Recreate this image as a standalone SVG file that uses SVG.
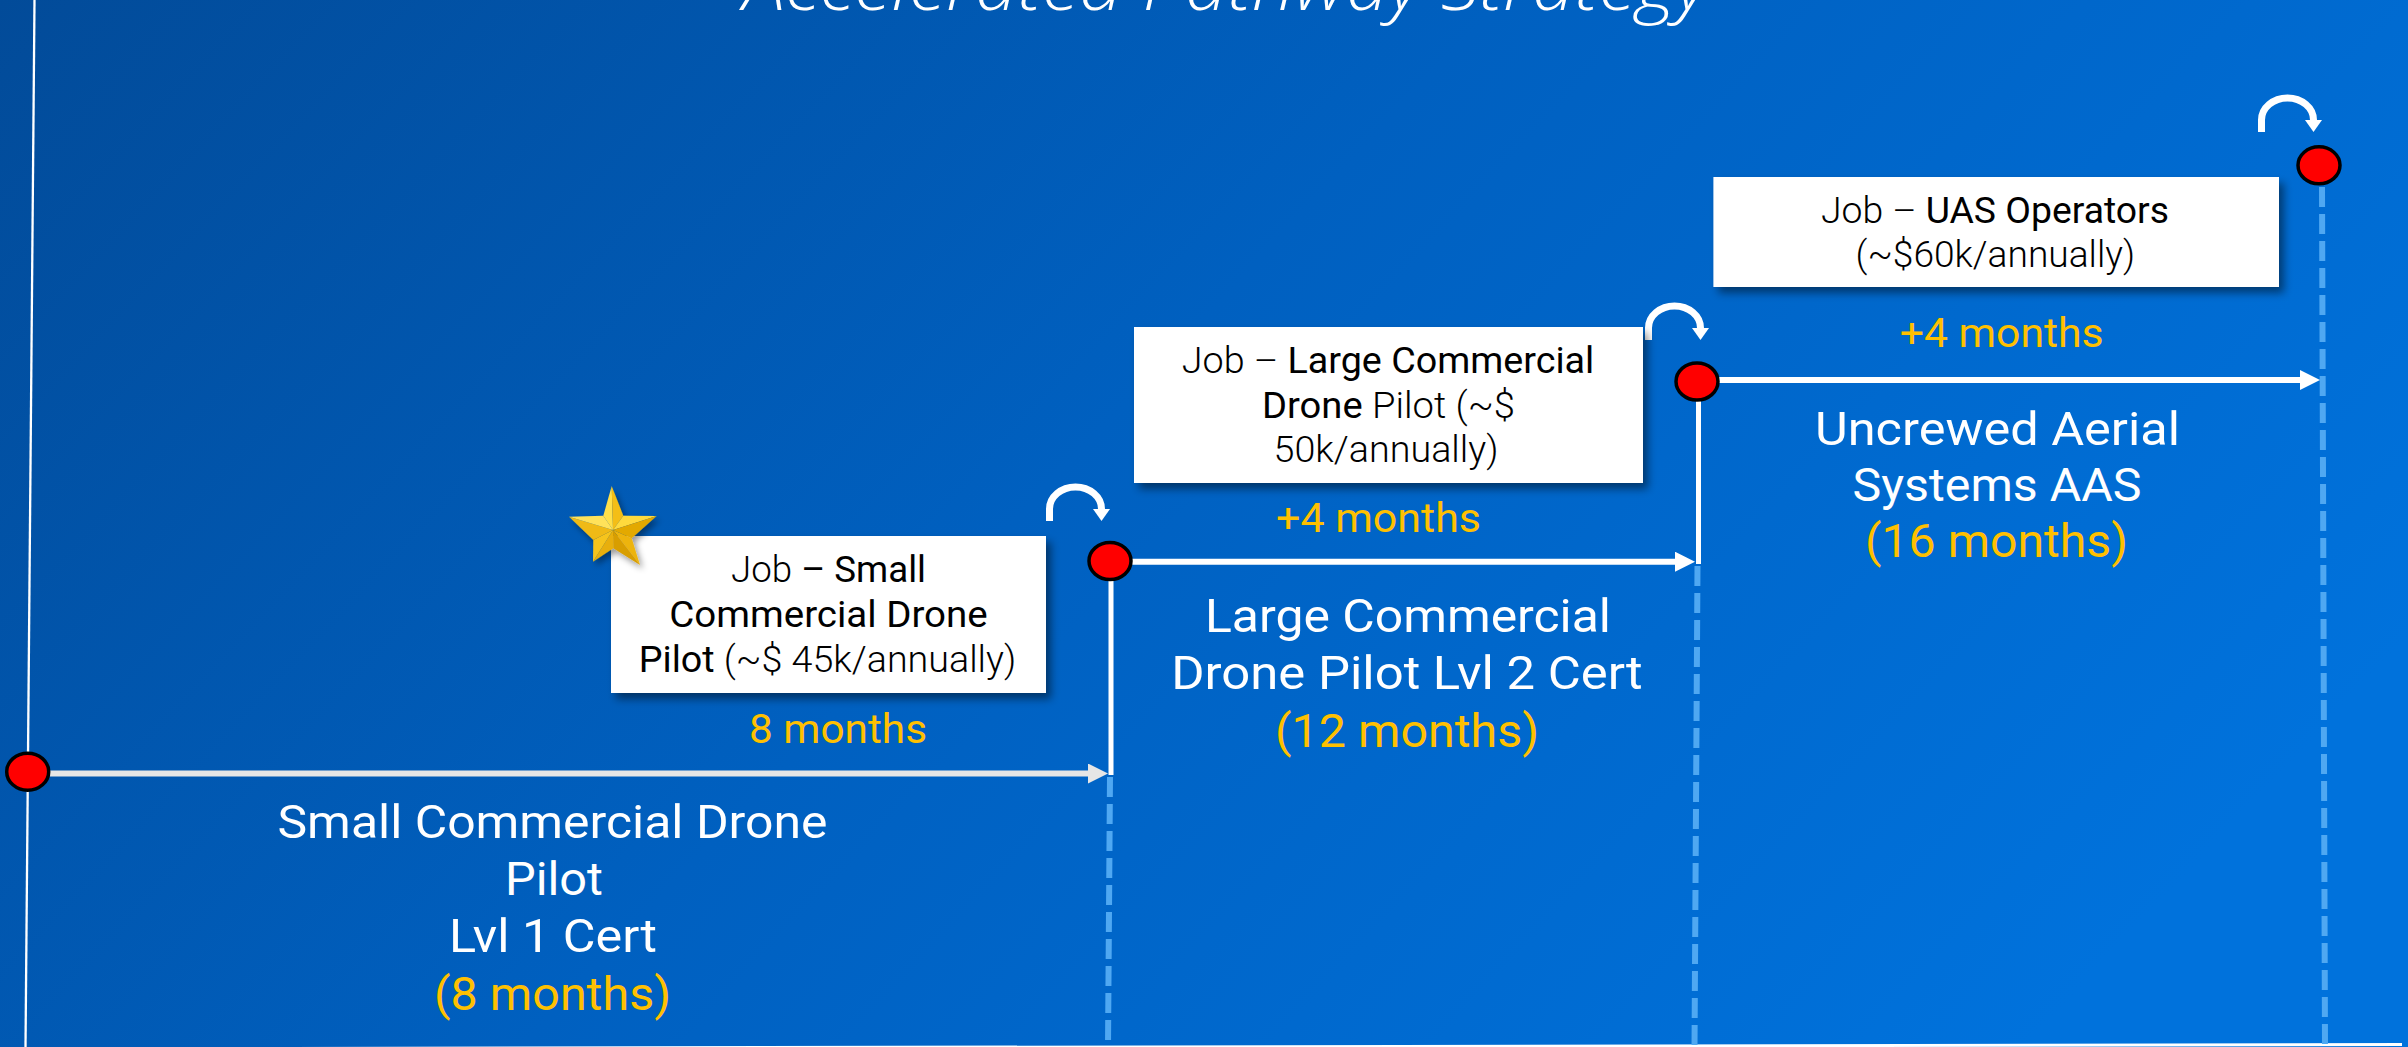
<svg xmlns="http://www.w3.org/2000/svg" width="2408" height="1047" viewBox="0 0 2408 1047">
<style>
.lbl{font-family:Roboto,"Liberation Sans",sans-serif;font-size:47px;fill:#FFFFFF;text-anchor:middle}
.org{fill:#FFC000}
.mon{font-family:Roboto,"Liberation Sans",sans-serif;font-size:40px;fill:#FFC000;text-anchor:middle}
.box{fill:#FFFFFF;filter:url(#shadow)}
.bt{font-family:Roboto,"Liberation Sans",sans-serif;font-size:36px;fill:#000000;text-anchor:middle}
.lt{font-weight:300}
.md{font-weight:400}
.dot{fill:#FF0000;stroke:#000000;stroke-width:3.5}
.dash{stroke:#4FA8F2;stroke-width:6;stroke-dasharray:20 7;fill:none}
.vline{stroke:#FFFFFF;stroke-width:5;fill:none}
.harrow{stroke:#FFFFFF;stroke-width:6;fill:none;marker-end:url(#ah)}
.curve{stroke:#FFFFFF;stroke-width:7;fill:none;marker-end:url(#ch)}
</style>
<defs>
<linearGradient id="bg" gradientUnits="userSpaceOnUse" x1="0" y1="0" x2="1600" y2="1500">
<stop offset="0" stop-color="#024B99"/>
<stop offset="0.5" stop-color="#0060C0"/>
<stop offset="1" stop-color="#0072DC"/>
</linearGradient>
<filter id="shadow" x="-10%" y="-10%" width="125%" height="130%">
<feDropShadow dx="5" dy="6" stdDeviation="4" flood-color="#000000" flood-opacity="0.45"/>
</filter>
<filter id="sshadow" x="-20%" y="-20%" width="150%" height="150%">
<feDropShadow dx="3" dy="4" stdDeviation="3" flood-color="#000000" flood-opacity="0.4"/>
</filter>
<marker id="ah" viewBox="0 -10 20 20" markerUnits="userSpaceOnUse" markerWidth="20" markerHeight="20" refX="0" refY="0" orient="auto">
<path d="M0,-10 L20,0 L0,10 Z" fill="#FFFFFF"/>
</marker>
<marker id="ahg" viewBox="0 -10 20 20" markerUnits="userSpaceOnUse" markerWidth="20" markerHeight="20" refX="0" refY="0" orient="auto">
<path d="M0,-10 L20,0 L0,10 Z" fill="#E6E6E6"/>
</marker>
<marker id="ch" viewBox="0 -9 13 18" markerUnits="userSpaceOnUse" markerWidth="13" markerHeight="18" refX="0" refY="0" orient="auto">
<path d="M0,-8.5 L12,0 L0,8.5 Z" fill="#FFFFFF"/>
</marker>
</defs>

<rect x="0" y="0" width="2408" height="1047" fill="url(#bg)"/>

<text id="title" x="1225.5" y="10" font-family="'Open Sans','Liberation Sans',sans-serif" font-style="italic" font-weight="300" font-size="70" fill="#FFFFFF" text-anchor="middle" textLength="965" lengthAdjust="spacingAndGlyphs">Accelerated Pathway Strategy</text>

<g id="connectors">
<line id="axis-y" x1="34.5" y1="0" x2="25.5" y2="1047" stroke="#FFFFFF" stroke-width="2.3"/>
<line id="axis-x" x1="27" y1="1049" x2="2402" y2="1044.5" stroke="#FFFFFF" stroke-width="3"/>
<line class="dash" x1="1110" y1="777" x2="1108" y2="1047"/>
<line class="dash" x1="1697.5" y1="566" x2="1694.5" y2="1047"/>
<line class="dash" x1="2322" y1="187" x2="2325" y2="1047"/>
<line class="vline" x1="1111" y1="561" x2="1111" y2="775"/>
<line class="vline" x1="1698.5" y1="381" x2="1698.5" y2="564"/>
<line x1="49" y1="773.5" x2="1088" y2="773.5" stroke="#E6E6E6" stroke-width="6" marker-end="url(#ahg)"/>
<line class="harrow" x1="1131" y1="561.7" x2="1675" y2="561.7"/>
<line class="harrow" x1="1718" y1="380" x2="2300" y2="380"/>
<path class="curve" d="M1049.5 521 L1049.5 509 A26 22 0 0 1 1101.5 509"/>
<path class="curve" d="M1648.5 340 L1648.5 328 A26 22 0 0 1 1700.5 328"/>
<path class="curve" d="M2261.5 132 L2261.5 120 A26 22 0 0 1 2313.5 120"/>
</g>

<g id="dot-1"><ellipse class="dot" cx="27.7" cy="771.7" rx="21" ry="18.5"/></g>
<g id="dot-2"><ellipse class="dot" cx="1110" cy="561" rx="21" ry="18.5"/></g>
<g id="dot-3"><ellipse class="dot" cx="1697" cy="381.5" rx="21" ry="18.5"/></g>
<g id="dot-4"><ellipse class="dot" cx="2319" cy="165.3" rx="21" ry="18.5"/></g>

<g id="job-1">
<rect class="box" x="611" y="536" width="435" height="157"/>
<text class="bt" x="828.5" y="582" textLength="195" lengthAdjust="spacingAndGlyphs"><tspan class="lt">Job</tspan><tspan class="md"> – Small</tspan></text>
<text class="bt md" x="828.5" y="627" textLength="318.5" lengthAdjust="spacingAndGlyphs">Commercial Drone</text>
<text class="bt" x="827.5" y="672" textLength="377.5" lengthAdjust="spacingAndGlyphs"><tspan class="md">Pilot</tspan><tspan class="lt"> (~$ 45k/annually)</tspan></text>
</g>

<g id="star" filter="url(#sshadow)">
<polygon points="613,530 603.3,515.7 611.7,486" fill="#FFE04A"/>
<polygon points="613,530 611.7,486 623.3,515.7" fill="#F4BE14"/>
<polygon points="613,530 623.3,515.7 656.7,516" fill="#FFDA3C"/>
<polygon points="613,530 656.7,516 631.7,538.3" fill="#E3A906"/>
<polygon points="613,530 631.7,538.3 640,565" fill="#EDB40C"/>
<polygon points="613,530 640,565 613.3,548.3" fill="#D89E00"/>
<polygon points="613,530 613.3,548.3 593,561.7" fill="#E8AF08"/>
<polygon points="613,530 593,561.7 593.3,540" fill="#F6C41C"/>
<polygon points="613,530 593.3,540 569,516.7" fill="#F0BA12"/>
<polygon points="613,530 569,516.7 603.3,515.7" fill="#FFE25A"/>
</g>

<g id="job-2">
<rect class="box" x="1134" y="327" width="509" height="156"/>
<text class="bt" x="1388" y="373" textLength="412.5" lengthAdjust="spacingAndGlyphs"><tspan class="lt">Job – </tspan><tspan class="md">Large Commercial</tspan></text>
<text class="bt" x="1388.5" y="418" textLength="253" lengthAdjust="spacingAndGlyphs"><tspan class="md">Drone</tspan><tspan class="lt"> Pilot (~$</tspan></text>
<text class="bt lt" x="1386" y="462" textLength="225" lengthAdjust="spacingAndGlyphs">50k/annually)</text>
</g>

<g id="job-3">
<rect class="box" x="1713.4" y="177" width="565.6" height="110"/>
<text class="bt" x="1995" y="222.7" textLength="348" lengthAdjust="spacingAndGlyphs"><tspan class="lt">Job – </tspan><tspan class="md">UAS Operators</tspan></text>
<text class="bt lt" x="1995.3" y="266.7" textLength="279.5" lengthAdjust="spacingAndGlyphs">(~$60k/annually)</text>
</g>

<g id="dur-1"><text class="mon" x="838" y="743" textLength="178" lengthAdjust="spacingAndGlyphs">8 months</text></g>
<g id="dur-2"><text class="mon" x="1378.5" y="531.7" textLength="205" lengthAdjust="spacingAndGlyphs">+4 months</text></g>
<g id="dur-3"><text class="mon" x="2001.7" y="346.7" textLength="204" lengthAdjust="spacingAndGlyphs">+4 months</text></g>

<g id="cert-1">
<text class="lbl" x="552.5" y="838" textLength="550" lengthAdjust="spacingAndGlyphs">Small Commercial Drone</text>
<text class="lbl" x="554" y="895" textLength="98" lengthAdjust="spacingAndGlyphs">Pilot</text>
<text class="lbl" x="553" y="952" textLength="208" lengthAdjust="spacingAndGlyphs">Lvl 1 Cert</text>
<text class="lbl org" x="552.5" y="1010" textLength="237" lengthAdjust="spacingAndGlyphs">(8 months)</text>
</g>

<g id="cert-2">
<text class="lbl" x="1408" y="632" textLength="406" lengthAdjust="spacingAndGlyphs">Large Commercial</text>
<text class="lbl" x="1407" y="689" textLength="471.5" lengthAdjust="spacingAndGlyphs">Drone Pilot Lvl 2 Cert</text>
<text class="lbl org" x="1407" y="747" textLength="264" lengthAdjust="spacingAndGlyphs">(12 months)</text>
</g>

<g id="cert-3">
<text class="lbl" x="1997.5" y="445" textLength="365" lengthAdjust="spacingAndGlyphs">Uncrewed Aerial</text>
<text class="lbl" x="1997" y="501" textLength="289" lengthAdjust="spacingAndGlyphs">Systems AAS</text>
<text class="lbl org" x="1996.5" y="557" textLength="263" lengthAdjust="spacingAndGlyphs">(16 months)</text>
</g>
</svg>
